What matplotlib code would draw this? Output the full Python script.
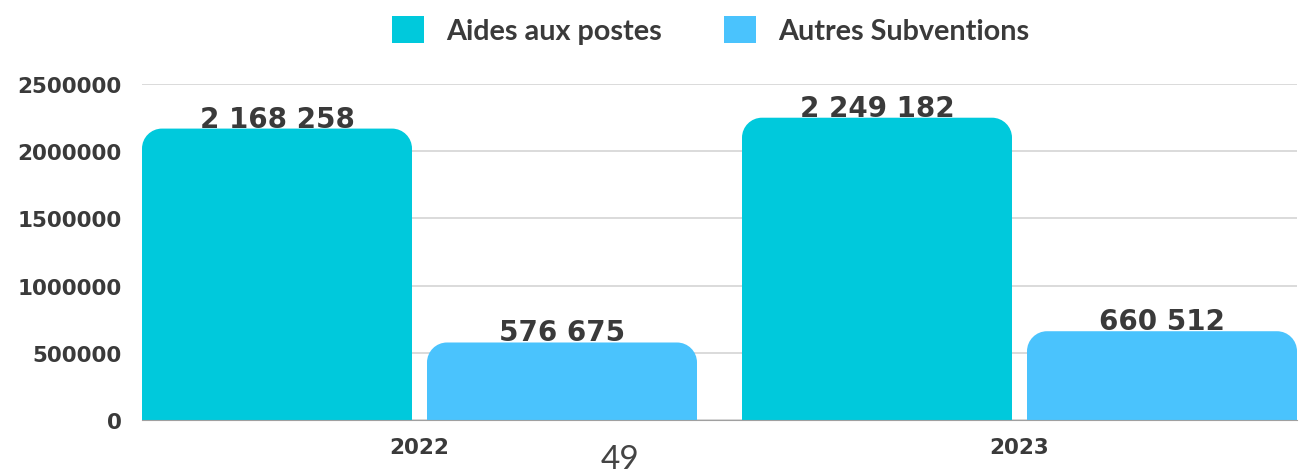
import numpy as np
import matplotlib.pyplot as plt
from matplotlib.path import Path
from matplotlib.patches import PathPatch, Patch

years = ['2022', '2023']
series = ['Aides aux postes', 'Autres Subventions']
aides = [2168258, 2249182]
autres = [576675, 660512]
colors = ['#00C9DC', '#4AC3FD']
text_col = '#3a3a3a'

def fmt(v):
    return f'{v:,}'.replace(',', ' ')

fig = plt.figure(figsize=(12.99, 4.77), dpi=100)
ax = fig.add_axes([142 / 1299, 1 - 421 / 477, 1155 / 1299, 336 / 477])

x = np.arange(len(years))
w = 0.45
off = 0.2375
bars1 = ax.bar(x - off, aides, w, color=colors[0])
bars2 = ax.bar(x + off, autres, w, color=colors[1])

ax.set_xlim(-0.4625, 1.4625)
ax.set_ylim(0, 2500000)

# rounded top corners (radius ~20 px)
rx = 20 / 600
ry = 20 * 2500000 / 336
k = 0.5523
for bars, col in [(bars1, colors[0]), (bars2, colors[1])]:
    for b in bars:
        x0, h, bw = b.get_x(), b.get_height(), b.get_width()
        x1 = x0 + bw
        verts = [(x0, 0), (x0, h - ry),
                 (x0, h - ry + k * ry), (x0 + rx - k * rx, h), (x0 + rx, h),
                 (x1 - rx, h),
                 (x1 - rx + k * rx, h), (x1, h - ry + k * ry), (x1, h - ry),
                 (x1, 0), (x0, 0)]
        codes = [Path.MOVETO, Path.LINETO,
                 Path.CURVE4, Path.CURVE4, Path.CURVE4,
                 Path.LINETO,
                 Path.CURVE4, Path.CURVE4, Path.CURVE4,
                 Path.LINETO, Path.CLOSEPOLY]
        ax.add_patch(PathPatch(Path(verts, codes), facecolor=col, edgecolor='none', zorder=2))
        b.set_visible(False)
        ax.annotate(fmt(int(h)), (x0 + bw / 2, h), xytext=(0, 2), textcoords='offset pixels',
                    ha='center', va='baseline', fontsize=20, fontweight='bold',
                    color=text_col, zorder=3)

ax.set_yticks(np.arange(0, 2500001, 500000))
ax.set_yticklabels([str(v) for v in range(0, 2500001, 500000)])
ax.set_xticks(x)
ax.set_xticklabels(years)
for lab in ax.get_xticklabels() + ax.get_yticklabels():
    lab.set_fontweight('bold')
    lab.set_fontsize(15.5)
    lab.set_color(text_col)
ax.tick_params(axis='y', length=0, pad=14.5)
ax.tick_params(axis='x', length=0, pad=12.5)
ax.grid(axis='y', color='#d4d4d4', linewidth=1.2, zorder=0)
ax.set_axisbelow(True)
for s in ['top', 'right', 'left']:
    ax.spines[s].set_visible(False)
ax.spines['bottom'].set_color('#a0a0a0')
ax.spines['bottom'].set_zorder(4)

handles = [Patch(facecolor=c, edgecolor='none') for c in colors]
fig.legend(handles, series, loc='center', bbox_to_anchor=(711 / 1299, 1 - 31 / 477), ncol=2,
           frameon=False, handlelength=1.11, handleheight=1.11, handletextpad=0.77,
           columnspacing=2.16, prop={'family': 'Lato', 'weight': 'bold', 'size': 20.7},
           labelcolor=text_col)

fig.text(620 / 1299, 0.004, '49', ha='center', va='bottom', fontsize=24,
         family='Lato', fontweight='normal', color='#444444')

fig.savefig('out.png', dpi=100)
